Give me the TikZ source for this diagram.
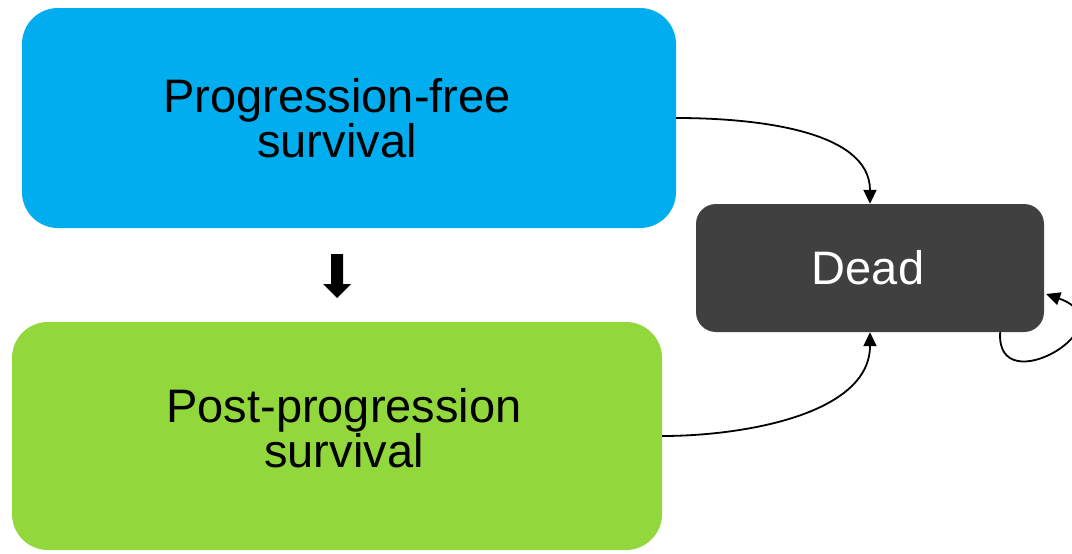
\documentclass[tikz,border=0pt]{standalone}
\usepackage{fontspec}
\setmainfont{Liberation Sans}
\usetikzlibrary{arrows.meta}
\definecolor{pfsblue}{HTML}{00AEEF}
\definecolor{ppsgreen}{HTML}{92D73C}
\definecolor{deadgray}{HTML}{404040}
\tikzset{
  statebox/.style={rectangle, inner sep=0pt, draw=none},
  statetext/.style={align=center, font=\fontsize{47}{45}\selectfont, inner sep=0pt},
  trans/.style={draw=black, line width=1.8pt, -{Triangle[length=14pt,width=13pt]}}
}
\begin{document}
\begin{tikzpicture}[x=1pt,y=-1pt]
\useasboundingbox (0,0) rectangle (1072,554);
\node[statebox, fill=pfsblue, rounded corners=36pt, minimum width=654pt, minimum height=220pt] (pfs) at (349,118) {};
\node[statetext] (pfst) at (337,118) {Progression-free\\survival};
\node[statebox, fill=ppsgreen, rounded corners=36pt, minimum width=650pt, minimum height=228pt] (pps) at (337,436) {};
\node[statetext] (ppst) at (344,428) {Post-progression\\survival};
\node[statebox, fill=deadgray, rounded corners=20pt, minimum width=348pt, minimum height=128pt] (dead) at (870,268) {};
\node[statetext, text=white] (deadt) at (868,268) {Dead};
% block arrow
\fill[black] (331,254) -- (343,254) -- (343,284) -- (351,284) -- (337,298) -- (323,284) -- (331,284) -- cycle;
% transitions
\draw[trans] (pfs.east) to[out=0,in=90,looseness=0.9] (dead.north);
\draw[trans] (pps.east) to[out=0,in=-90,looseness=0.9] (dead.south);
\coordinate (loopstart) at ([xshift=-44pt]dead.south east);
\coordinate (loopend) at ([yshift=-26pt,xshift=2pt]dead.east);
\draw[trans] (loopstart) .. controls +(-5,72) and +(85,30) .. (loopend);
\end{tikzpicture}
\end{document}
